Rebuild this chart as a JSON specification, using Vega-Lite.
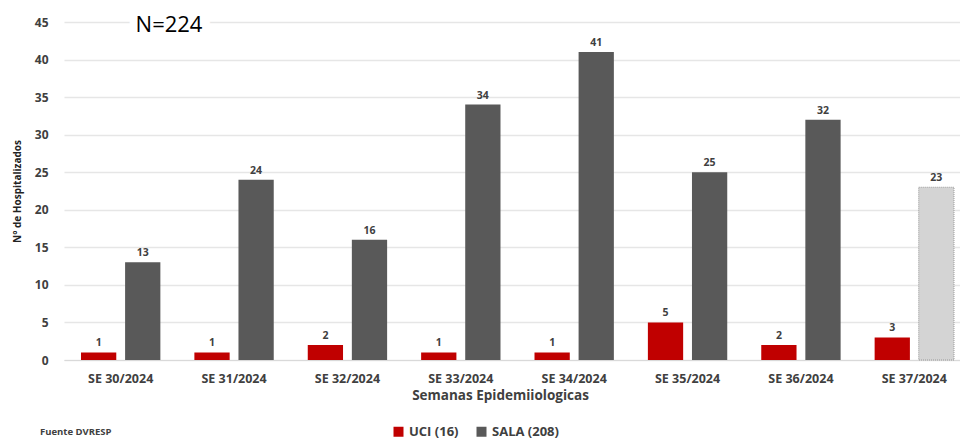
{
  "$schema": "https://vega.github.io/schema/vega-lite/v6.json",
  "width": 894,
  "height": 338,
  "autosize": {"type": "none"},
  "padding": {"left": 64, "top": 22, "right": 2, "bottom": 81},
  "background": "white",
  "config": {
    "font": "Open Sans",
    "view": {"stroke": null},
    "axis": {"labelFont": "Open Sans", "titleFont": "Open Sans"}
  },
  "title": {
    "text": "Fuente DVRESP",
    "orient": "bottom",
    "anchor": "start",
    "frame": "group",
    "fontSize": 9.5,
    "fontWeight": "bold",
    "color": "#404040",
    "dx": -24,
    "offset": -12
  },
  "data": {
    "values": [
      {"semana": "SE 30/2024", "serie": "UCI (16)", "n": 1},
      {"semana": "SE 30/2024", "serie": "SALA (208)", "n": 13},
      {"semana": "SE 31/2024", "serie": "UCI (16)", "n": 1},
      {"semana": "SE 31/2024", "serie": "SALA (208)", "n": 24},
      {"semana": "SE 32/2024", "serie": "UCI (16)", "n": 2},
      {"semana": "SE 32/2024", "serie": "SALA (208)", "n": 16},
      {"semana": "SE 33/2024", "serie": "UCI (16)", "n": 1},
      {"semana": "SE 33/2024", "serie": "SALA (208)", "n": 34},
      {"semana": "SE 34/2024", "serie": "UCI (16)", "n": 1},
      {"semana": "SE 34/2024", "serie": "SALA (208)", "n": 41},
      {"semana": "SE 35/2024", "serie": "UCI (16)", "n": 5},
      {"semana": "SE 35/2024", "serie": "SALA (208)", "n": 25},
      {"semana": "SE 36/2024", "serie": "UCI (16)", "n": 2},
      {"semana": "SE 36/2024", "serie": "SALA (208)", "n": 32},
      {"semana": "SE 37/2024", "serie": "UCI (16)", "n": 3},
      {"semana": "SE 37/2024", "serie": "SALA (208)", "n": 23}
    ]
  },
  "encoding": {
    "x": {
      "field": "semana",
      "type": "nominal",
      "sort": null,
      "scale": {"paddingInner": 0.3, "paddingOuter": 0.15, "range": [0, 907]},
      "axis": {
        "title": "Semanas Epidemiiologicas",
        "labelAngle": 0,
        "labelFontSize": 12.5,
        "labelFontWeight": "bold",
        "labelColor": "#404040",
        "labelPadding": 12,
        "ticks": false,
        "domain": true,
        "domainColor": "#d9d9d9",
        "titleFontSize": 13.5,
        "titleFontWeight": "bold",
        "titleColor": "#404040",
        "titlePadding": 4,
        "titleX": 436
      }
    },
    "xOffset": {
      "field": "serie",
      "type": "nominal",
      "sort": ["UCI (16)", "SALA (208)"],
      "scale": {"paddingInner": 0.2}
    },
    "y": {
      "field": "n",
      "type": "quantitative",
      "scale": {"domain": [0, 45]},
      "axis": {
        "title": "N° de Hospitalizados",
        "values": [0, 5, 10, 15, 20, 25, 30, 35, 40, 45],
        "labelFontSize": 12,
        "labelFontWeight": "bold",
        "labelColor": "#404040",
        "labelPadding": 16,
        "ticks": false,
        "domain": false,
        "gridColor": "#e6e6e6",
        "gridWidth": 1.5,
        "titleFontSize": 10,
        "titleFontWeight": "bold",
        "titleColor": "#222222",
        "titlePadding": 12
      }
    }
  },
  "layer": [
    {
      "mark": {"type": "bar"},
      "encoding": {
        "color": {
          "field": "serie",
          "type": "nominal",
          "sort": ["UCI (16)", "SALA (208)"],
          "scale": {"domain": ["UCI (16)", "SALA (208)"], "range": ["#c00000", "#595959"]},
          "legend": {
            "title": null,
            "orient": "none",
            "direction": "horizontal",
            "legendX": 328,
            "legendY": 403,
            "symbolType": "square",
            "symbolSize": 100,
            "symbolStrokeWidth": 0,
            "labelFontSize": 13,
            "labelFontWeight": "bold",
            "labelColor": "#404040",
            "columnPadding": 16
          },
          "condition": {
            "test": "datum.semana === 'SE 37/2024' && datum.serie === 'SALA (208)'",
            "value": "#d4d4d4"
          }
        },
        "stroke": {
          "condition": {
            "test": "datum.semana === 'SE 37/2024' && datum.serie === 'SALA (208)'",
            "value": "#9a9a9a"
          },
          "value": null
        },
        "strokeDash": {
          "condition": {
            "test": "datum.semana === 'SE 37/2024' && datum.serie === 'SALA (208)'",
            "value": [1, 1]
          },
          "value": [1, 0]
        }
      }
    },
    {
      "mark": {"type": "text", "dy": -9, "fontSize": 10.5, "fontWeight": "bold", "color": "#404040"},
      "encoding": {"text": {"field": "n", "type": "quantitative"}}
    },
    {
      "transform": [{"filter": "datum.semana === 'SE 30/2024' && datum.serie === 'UCI (16)'"}],
      "mark": {"type": "text", "fontSize": 22, "fontWeight": "normal", "font": "Open Sans", "fill": "#ffffff", "stroke": "#ffffff", "strokeWidth": 16, "align": "center", "baseline": "middle", "dx": 88, "dy": 3},
      "encoding": {
        "x": {"datum": "SE 30/2024"},
        "y": {"datum": 45},
        "text": {"value": "N=224"},
        "xOffset": {"value": 0}
      }
    },
    {
      "transform": [{"filter": "datum.semana === 'SE 30/2024' && datum.serie === 'UCI (16)'"}],
      "mark": {"type": "text", "fontSize": 22, "fontWeight": "normal", "font": "Open Sans", "color": "#000000", "align": "center", "baseline": "middle", "dx": 88, "dy": 3},
      "encoding": {
        "x": {"datum": "SE 30/2024"},
        "y": {"datum": 45},
        "text": {"value": "N=224"},
        "xOffset": {"value": 0}
      }
    }
  ]
}
